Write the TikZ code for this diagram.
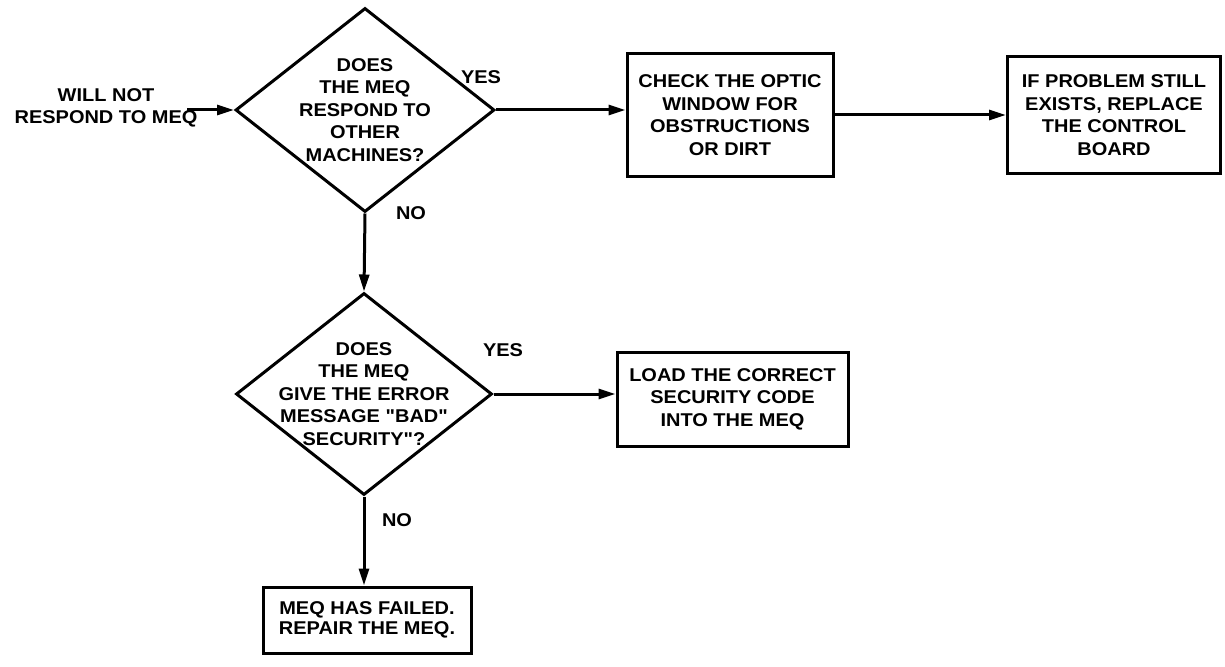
\documentclass[tikz,border=0pt]{standalone}
\usepackage{fontspec}
\newfontfamily\labfont{Liberation Sans}[FakeStretch=1.08]
\usetikzlibrary{shapes.geometric,arrows.meta}
\tikzset{
  txt/.style={font=\labfont\bfseries\fontsize{18.5}{22.5}\selectfont, align=center, inner sep=0pt},
  dia/.style={shape=diamond, draw, line width=3pt, inner sep=0pt, minimum width=#1},
  stepbox/.style={draw, line width=3pt, inner sep=0pt, align=center,
    font=\labfont\bfseries\fontsize{18.5}{22.5}\selectfont},
  conn/.style={line width=3pt, -{Triangle[length=17pt,width=10pt]}},
}
\begin{document}
\begin{tikzpicture}[x=1pt,y=-1pt]
\fill[white] (0,0) rectangle (1225,666);
\useasboundingbox (0,0) rectangle (1225,666);

% input
\node[txt] (in) at (106,108) {WILL NOT\\RESPOND TO MEQ};
\coordinate (start) at (187,110);

% decision 1
\node[dia=259pt, minimum height=204pt] (d1) at (365,110) {};
\node[txt] (d1t) at (d1.center) {DOES\\THE MEQ\\RESPOND TO\\OTHER\\MACHINES?};

% boxes top row
\node[stepbox, minimum width=206pt, minimum height=122pt] (b1) at (730,115)
  {CHECK THE OPTIC\\WINDOW FOR\\OBSTRUCTIONS\\OR DIRT};
\node[stepbox, minimum width=213pt, minimum height=116pt] (b2) at (1114,115)
  {IF PROBLEM STILL\\EXISTS, REPLACE\\THE CONTROL\\BOARD};

% decision 2
\node[dia=256pt, minimum height=202pt] (d2) at (364,394) {};
\node[txt] (d2t) at (d2.center) {DOES\\THE MEQ\\GIVE THE ERROR\\MESSAGE "BAD"\\SECURITY"?};

\node[stepbox, minimum width=231pt, minimum height=94pt] (b3) at (732.5,399)
  {LOAD THE CORRECT\\SECURITY CODE\\INTO THE MEQ};
\node[stepbox, minimum width=208pt, minimum height=66pt,
  font=\labfont\bfseries\fontsize{18.5}{20}\selectfont] (b4) at (367,620)
  {MEQ HAS FAILED.\\REPAIR THE MEQ.};

% labels
\node[txt] (y1) at (481,77) {YES};
\node[txt] (n1) at (411,213) {NO};
\node[txt] (y2) at (503,350) {YES};
\node[txt] (n2) at (397,520) {NO};

% connectors
\draw[conn] (start) -- (d1.west);
\draw[conn] (d1.east) -- (d1.east -| b1.west);
\draw[conn] (b1.east) -- (b2.west);
\draw[conn] (d1.south) -- (d2.north);
\draw[conn] (d2.east) -- (d2.east -| b3.west);
\draw[conn] (d2.south) -- (d2.south |- b4.north);
\end{tikzpicture}
\end{document}
